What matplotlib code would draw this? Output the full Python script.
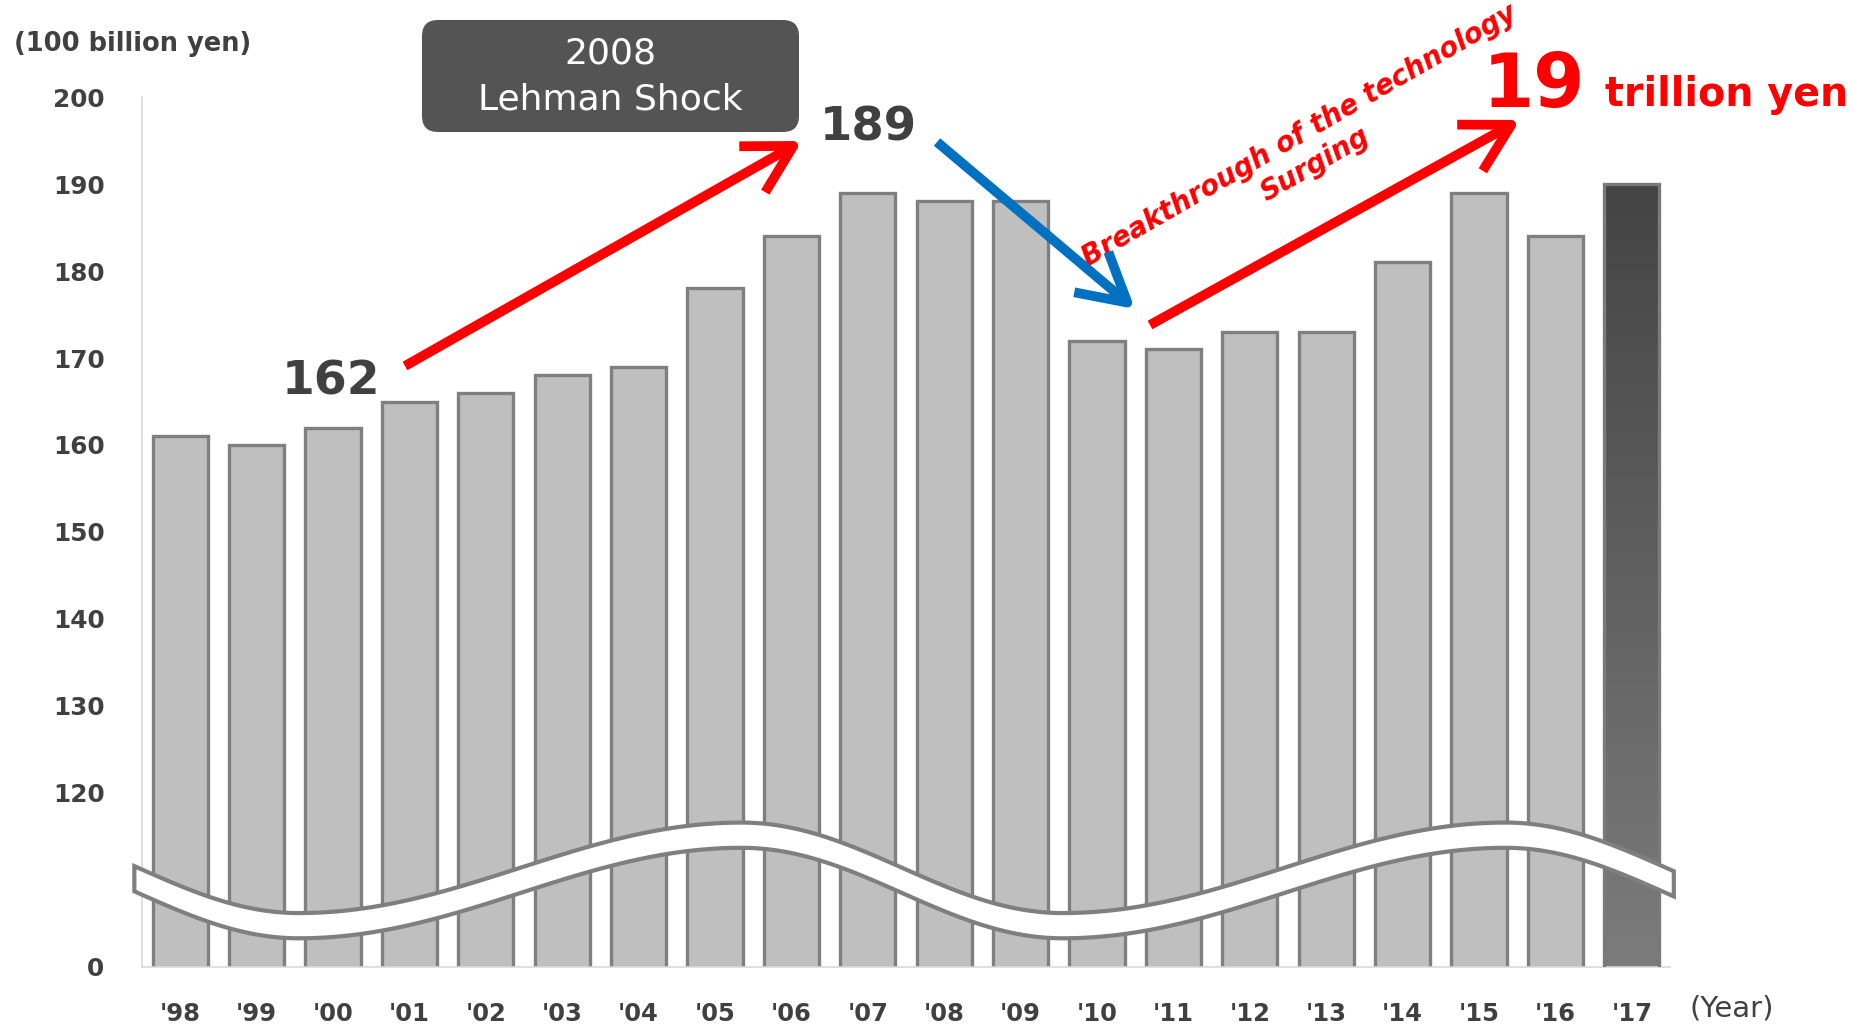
import numpy as np
import matplotlib
matplotlib.use("Agg")
import matplotlib.pyplot as plt
from matplotlib.patches import Polygon, FancyArrowPatch, FancyBboxPatch

plt.rcParams['font.family'] = ['DejaVu Sans']

# ---- data -------------------------------------------------------------
years = ["'98", "'99", "'00", "'01", "'02", "'03", "'04", "'05", "'06", "'07",
         "'08", "'09", "'10", "'11", "'12", "'13", "'14", "'15", "'16", "'17"]
values = [161, 160, 162, 165, 166, 168, 169, 178, 184, 189,
          188, 188, 172, 171, 173, 173, 181, 189, 184, 190]
ytick_values = [100, 120, 130, 140, 150, 160, 170, 180, 190, 200]
ytick_labels = ['0', '120', '130', '140', '150', '160', '170', '180', '190', '200']

W, H = 1853, 1027
DARK = '#404040'
fig = plt.figure(figsize=(W / 100, H / 100), dpi=100)
ax = fig.add_axes([142 / W, 1 - 967 / H, 1528 / W, 870 / H])

x = np.arange(len(years))
bw = 0.72
bars = ax.bar(x[:-1], values[:-1], width=bw, bottom=0, color='#bfbfbf',
              edgecolor='#7f7f7f', linewidth=2.4, zorder=2)

# last year: vertical gradient bar
last = ax.bar(x[-1], values[-1], width=bw, color='none', edgecolor='#7a7a7a',
              linewidth=2.4, zorder=3)[0]
grad = np.linspace(0, 1, 256).reshape(-1, 1)
cmap = matplotlib.colors.LinearSegmentedColormap.from_list('g', ['#444444', '#7c7c7c'])
im = ax.imshow(grad, cmap=cmap, aspect='auto', zorder=2.5,
               extent=[x[-1] - bw / 2, x[-1] + bw / 2, 100, values[-1]], origin='upper')
im.set_clip_path(last)

ax.set_xlim(-0.5, len(years) - 0.5)
ax.set_ylim(100, 200)
ax.set_yticks(ytick_values)
ax.set_yticklabels(ytick_labels, fontsize=17.8, fontweight='bold', color=DARK)
ax.set_xticks(x)
ax.set_xticklabels(years, fontsize=17.5, fontweight='bold', color=DARK)
ax.tick_params(axis='y', length=0, pad=27)
ax.tick_params(axis='x', length=0, pad=25)
for s in ['top', 'right']:
    ax.spines[s].set_visible(False)
for s in ['left', 'bottom']:
    ax.spines[s].set_color('#d9d9d9')
    ax.spines[s].set_linewidth(1.2)

# ---- axis-break wave band --------------------------------------------
xs = np.linspace(-0.6, 19.55, 600)
t = np.mod(xs - 1.55, 10.0)
rise = 5.8
wave = np.where(t < rise, -np.cos(np.pi * t / rise),
                np.cos(np.pi * (t - rise) / (10.0 - rise)))
mid, amp, thick = 111.4, 5.2, 2.9
top = mid + amp * wave
bot = top - thick
poly = np.vstack([np.column_stack([xs, top]), np.column_stack([xs[::-1], bot[::-1]])])
ax.add_patch(Polygon(poly, closed=True, facecolor='white', edgecolor='#7f7f7f',
                     linewidth=3, zorder=6, clip_on=False, joinstyle='miter'))

# ---- annotations (pixel coordinates) ---------------------------------
def px(xp, yp):
    return (xp, H - yp)

fig.text(14 / W, 1 - 44 / H, '(100 billion yen)', fontsize=18.5, fontweight='bold',
         color=DARK, ha='left', va='center')
fig.text(1690 / W, 1 - 1008 / H, '(Year)', fontsize=21, color=DARK,
         ha='left', va='center')

box = FancyBboxPatch(px(422, 132), 377, 112, boxstyle='round,pad=0,rounding_size=16',
                     transform=None, facecolor='#545454', edgecolor='none', zorder=10)
fig.patches.append(box)
fig.text(610 / W, 1 - 53 / H, '2008', fontsize=26, color='white', ha='center',
         va='center', zorder=11)
fig.text(610 / W, 1 - 99 / H, 'Lehman Shock', fontsize=26, color='white', ha='center',
         va='center', zorder=11)

fig.text(331 / W, 1 - 382 / H, str(values[2]), fontsize=34, fontweight='bold',
         color=DARK, ha='center', va='center')
fig.text(868 / W, 1 - 128 / H, str(values[9]), fontsize=33.5, fontweight='bold',
         color=DARK, ha='center', va='center')


def arrow(p0, p1, color):
    a = FancyArrowPatch(px(*p0), px(*p1), transform=None,
                        arrowstyle='->,head_length=34,head_width=19',
                        mutation_scale=1, color=color, linewidth=7,
                        shrinkA=0, shrinkB=0, capstyle='butt', joinstyle='round',
                        zorder=12)
    fig.patches.append(a)


arrow((405, 366), (802, 141), '#ff0000')
arrow((937, 142), (1135, 309), '#0070c0')
arrow((1150, 325), (1520, 120), '#ff0000')

fig.text(1299 / W, 1 - 136 / H, 'Breakthrough of the technology', fontsize=19.8,
         fontweight='bold', style='italic', color='#ff0000', rotation=30,
         ha='center', va='center', rotation_mode='anchor')
fig.text(1315 / W, 1 - 165 / H, 'Surging', fontsize=19.8, fontweight='bold',
         style='italic', color='#ff0000', rotation=30, ha='center', va='center',
         rotation_mode='anchor')

fig.text(1534 / W, 1 - 87 / H, '19', fontsize=53, fontweight='bold',
         color='#ff0000', ha='center', va='center')
fig.text(1605 / W, 1 - 95 / H, 'trillion yen', fontsize=28.5, fontweight='bold',
         color='#ff0000', ha='left', va='center')

fig.savefig('out.png', dpi=100, facecolor='white')
